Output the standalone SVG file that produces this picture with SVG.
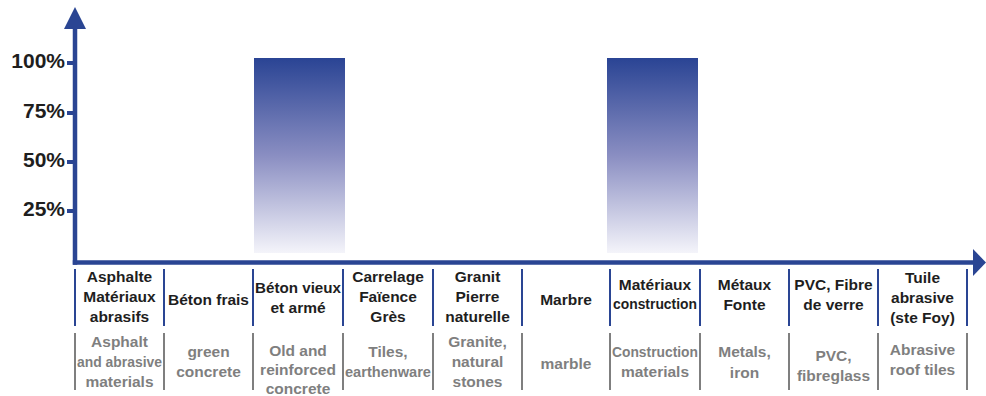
<svg xmlns="http://www.w3.org/2000/svg" width="986" height="396" viewBox="0 0 986 396">
<defs>
<linearGradient id="barGrad" x1="0" y1="0" x2="0" y2="1">
<stop offset="0" stop-color="#2a4494"/>
<stop offset="0.5" stop-color="#8a8ec2"/>
<stop offset="1" stop-color="#f4f4fa"/>
</linearGradient>
<style>
.axis{stroke:#2a4593;stroke-width:4.5;fill:none}
.tick{stroke:#2a4593;stroke-width:4}
.ahead{fill:#2a4593}
.pct{font-family:"Liberation Sans",Arial,sans-serif;font-weight:bold;font-size:21px;fill:#1e1e1e;text-anchor:end}
.fr{font-family:"Liberation Sans",Arial,sans-serif;font-weight:bold;font-size:15.5px;fill:#1e1e1e;text-anchor:middle}
.en{font-family:"Liberation Sans",Arial,sans-serif;font-weight:bold;font-size:15.5px;fill:#7f7f7f;text-anchor:middle}
.bdiv{stroke:#2a4593;stroke-width:2}
.gdiv{stroke:#7f7f7f;stroke-width:2}
</style>
</defs>
<rect width="986" height="396" fill="#ffffff"/>

<g id="bars">
<rect x="254" y="58" width="91" height="195" fill="url(#barGrad)"/>
<rect x="607" y="58" width="91" height="195" fill="url(#barGrad)"/>
</g>

<g id="connectors">
<line class="axis" x1="75" y1="26" x2="75" y2="264.7"/>
<line class="axis" x1="72.8" y1="262.5" x2="975" y2="262.5"/>
<polygon class="ahead" points="75,7 86,29 64,29"/>
<polygon class="ahead" points="973,249 986,262.5 973,276"/>
<line class="tick" x1="67" y1="63" x2="75" y2="63"/>
<line class="tick" x1="67" y1="113" x2="75" y2="113"/>
<line class="tick" x1="67" y1="162" x2="75" y2="162"/>
<line class="tick" x1="67" y1="211" x2="75" y2="211"/>
<g id="dividers">
<line class="bdiv" x1="75" y1="269" x2="75" y2="326"/>
<line class="bdiv" x1="164" y1="269" x2="164" y2="326"/>
<line class="bdiv" x1="253" y1="269" x2="253" y2="326"/>
<line class="bdiv" x1="343" y1="269" x2="343" y2="326"/>
<line class="bdiv" x1="433" y1="269" x2="433" y2="326"/>
<line class="bdiv" x1="522" y1="269" x2="522" y2="326"/>
<line class="bdiv" x1="610" y1="269" x2="610" y2="326"/>
<line class="bdiv" x1="700" y1="269" x2="700" y2="326"/>
<line class="bdiv" x1="789" y1="269" x2="789" y2="326"/>
<line class="bdiv" x1="878" y1="269" x2="878" y2="326"/>
<line class="bdiv" x1="967" y1="269" x2="967" y2="326"/>
<line class="gdiv" x1="75" y1="333" x2="75" y2="390"/>
<line class="gdiv" x1="164" y1="333" x2="164" y2="390"/>
<line class="gdiv" x1="253" y1="333" x2="253" y2="390"/>
<line class="gdiv" x1="343" y1="333" x2="343" y2="390"/>
<line class="gdiv" x1="433" y1="333" x2="433" y2="390"/>
<line class="gdiv" x1="522" y1="333" x2="522" y2="390"/>
<line class="gdiv" x1="610" y1="333" x2="610" y2="390"/>
<line class="gdiv" x1="700" y1="333" x2="700" y2="390"/>
<line class="gdiv" x1="789" y1="333" x2="789" y2="390"/>
<line class="gdiv" x1="878" y1="333" x2="878" y2="390"/>
<line class="gdiv" x1="967" y1="333" x2="967" y2="390"/>
</g>
</g>

<g id="yLabels">
<text class="pct" x="65" y="68">100%</text>
<text class="pct" x="65" y="118">75%</text>
<text class="pct" x="65" y="167">50%</text>
<text class="pct" x="65" y="216">25%</text>
</g>

<g id="col1">
<text class="fr" x="119.5" y="282">Asphalte</text>
<text class="fr" x="119.5" y="302">Matériaux</text>
<text class="fr" x="119.5" y="322">abrasifs</text>
<text class="en" x="119.5" y="347">Asphalt</text>
<text class="en" x="119.5" y="367" textLength="85" lengthAdjust="spacingAndGlyphs">and abrasive</text>
<text class="en" x="119.5" y="387">materials</text>
</g>
<g id="col2">
<text class="fr" x="208.5" y="305">Béton frais</text>
<text class="en" x="208.5" y="357">green</text>
<text class="en" x="208.5" y="377">concrete</text>
</g>
<g id="col3">
<text class="fr" x="298" y="293" textLength="86" lengthAdjust="spacingAndGlyphs">Béton vieux</text>
<text class="fr" x="298" y="313">et armé</text>
<text class="en" x="298" y="356">Old and</text>
<text class="en" x="298" y="375">reinforced</text>
<text class="en" x="298" y="394">concrete</text>
</g>
<g id="col4">
<text class="fr" x="388" y="282">Carrelage</text>
<text class="fr" x="388" y="302">Faïence</text>
<text class="fr" x="388" y="322">Grès</text>
<text class="en" x="388" y="357">Tiles,</text>
<text class="en" x="388" y="377" textLength="86" lengthAdjust="spacingAndGlyphs">earthenware</text>
</g>
<g id="col5">
<text class="fr" x="477.5" y="282">Granit</text>
<text class="fr" x="477.5" y="302">Pierre</text>
<text class="fr" x="477.5" y="322">naturelle</text>
<text class="en" x="477.5" y="347">Granite,</text>
<text class="en" x="477.5" y="367">natural</text>
<text class="en" x="477.5" y="387">stones</text>
</g>
<g id="col6">
<text class="fr" x="566" y="305">Marbre</text>
<text class="en" x="566" y="369">marble</text>
</g>
<g id="col7">
<text class="fr" x="655" y="290">Matériaux</text>
<text class="fr" x="655" y="309" textLength="84" lengthAdjust="spacingAndGlyphs">construction</text>
<text class="en" x="655" y="357" textLength="86" lengthAdjust="spacingAndGlyphs">Construction</text>
<text class="en" x="655" y="377">materials</text>
</g>
<g id="col8">
<text class="fr" x="744.5" y="290">Métaux</text>
<text class="fr" x="744.5" y="310">Fonte</text>
<text class="en" x="744.5" y="357">Metals,</text>
<text class="en" x="744.5" y="378">iron</text>
</g>
<g id="col9">
<text class="fr" x="833.5" y="290">PVC, Fibre</text>
<text class="fr" x="833.5" y="310">de verre</text>
<text class="en" x="833.5" y="361">PVC,</text>
<text class="en" x="833.5" y="381">fibreglass</text>
</g>
<g id="col10">
<text class="fr" x="922.5" y="283">Tuile</text>
<text class="fr" x="922.5" y="303">abrasive</text>
<text class="fr" x="922.5" y="323">(ste Foy)</text>
<text class="en" x="922.5" y="355">Abrasive</text>
<text class="en" x="922.5" y="375">roof tiles</text>
</g>
</svg>
